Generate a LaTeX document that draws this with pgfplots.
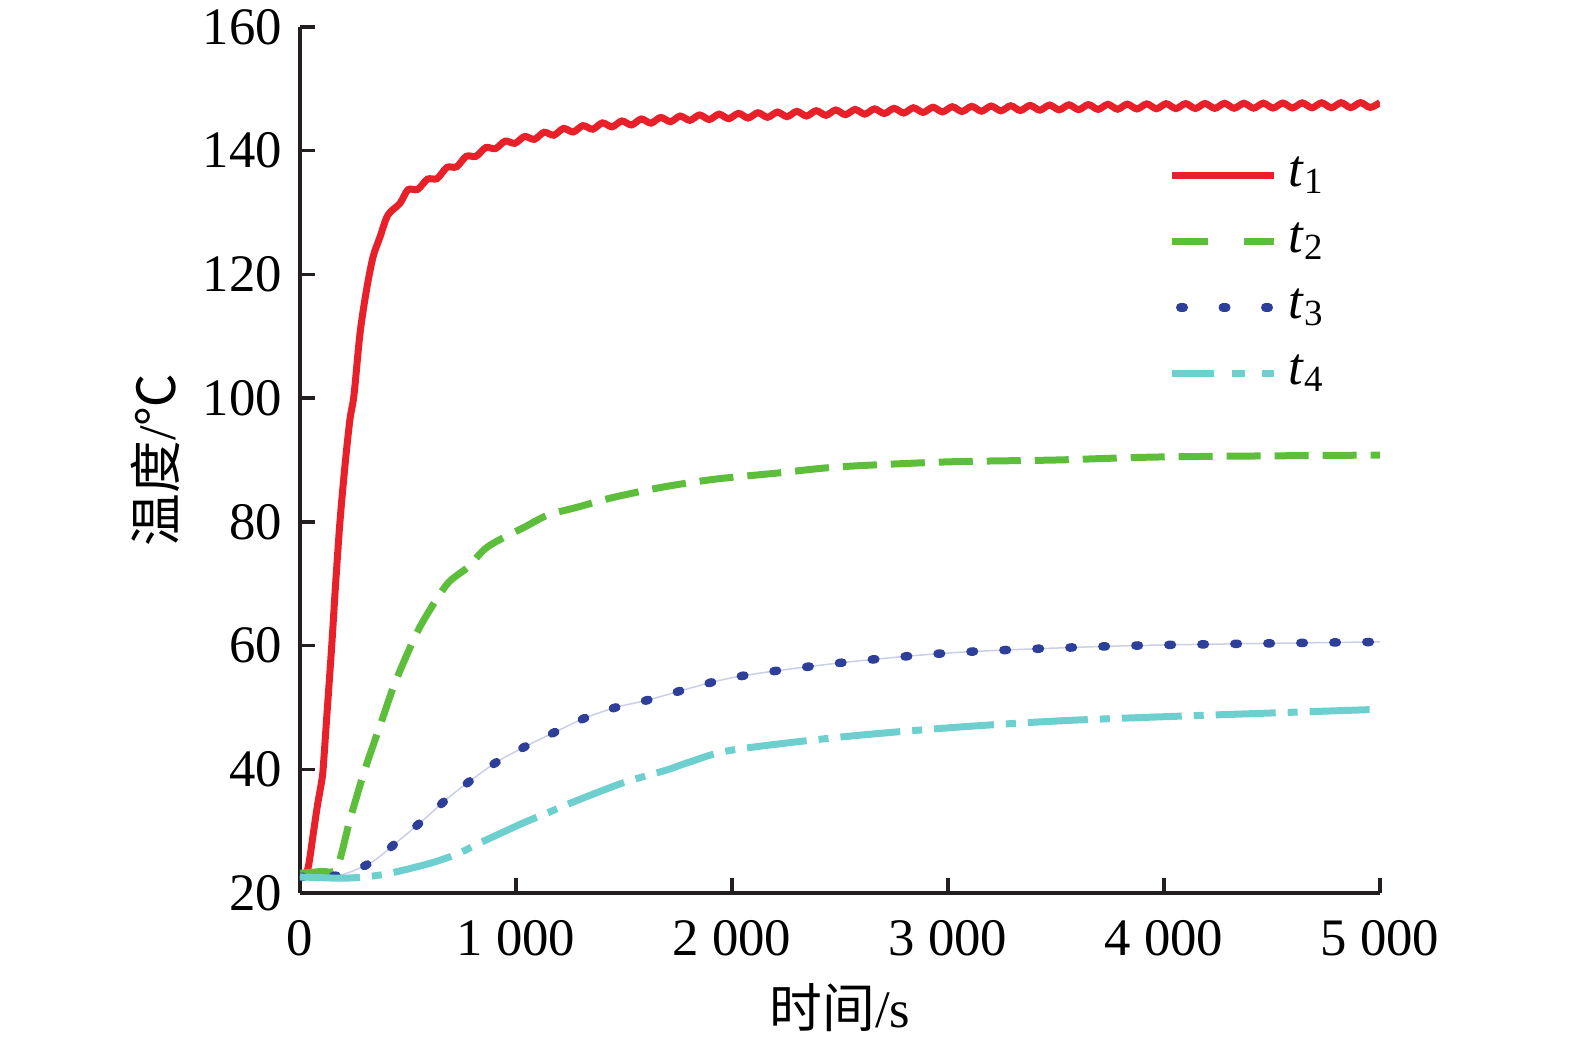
\documentclass[border=0pt]{standalone}
\usepackage{fontspec}
\setmainfont{Liberation Serif}
\newfontfamily\cjk{Noto Sans CJK SC}
\usepackage{pgfplots}
\pgfplotsset{compat=1.18}
\definecolor{cR}{HTML}{E8202A}
\definecolor{cG}{HTML}{5DBE3C}
\definecolor{cB}{HTML}{2E3F99}
\definecolor{cC}{HTML}{6ECFCF}
\definecolor{axc}{HTML}{231F20}
\begin{document}
\fontsize{15}{18}\selectfont
\begin{tikzpicture}
\path[use as bounding box] (-30mm,-15.4mm) rectangle (127.5mm,89.3mm);
\begin{axis}[
  scale only axis, width=108mm, height=86.6mm,
  xmin=0, xmax=5000, ymin=20, ymax=160,
  axis x line*=bottom, axis y line*=left,
  axis line style={-, line width=0.4mm, color=axc},
  tick style={line width=0.35mm, color=axc},
  major tick length=1.5mm,
  tick align=inside,
  xtick={0,1000,2000,3000,4000,5000},
  xticklabels={0,1 000,2 000,3 000,4 000,5 000},
  ytick={20,40,60,80,100,120,140,160},
  /pgf/number format/assume math mode=true,
  xticklabel style={yshift=-0.9mm},
  xlabel={{\cjk 时间}/s},
  ylabel={{\cjk 温度}/{\cjk ℃}},
  xlabel style={at={(axis description cs:0.5,-0.132)}, anchor=center},
  ylabel style={at={(axis description cs:-0.134,0.5)}, anchor=center},
  legend style={at={(axis description cs:0.794,0.871)}, anchor=north west,
    draw=none, fill=none, row sep=0.85mm, nodes={inner sep=1mm}},
  legend cell align=left,
]
% t1
\addplot[cR, line width=0.7mm, smooth, legend image code/.code={\draw[cR, line width=0.7mm] (0mm,0mm) -- (10.2mm,0mm);}] coordinates {
(0,22.8) (25,23) (40,24.5) (62,29.7) (80,34) (100,38) (107,40) (123,48)
(147,60) (165,70) (185,80) (208,89) (231,96.5) (250,100.5) (278,110.5)
(308,117.5) (338,122.8) (370,126) (407,129.6) (463,131.5)
(500,133.7) (545,133.75) (590,135.4) (635,135.5) (680,137.3) (725,137.4)
(770,139.1) (815,139.1) (860,140.5) (905,140.35) (950,141.55) (995,141.2)
(1040,142.3) (1085,141.84) (1130,142.98) (1175,142.51) (1220,143.6) (1265,143.03)
(1310,144.05) (1355,143.48) (1400,144.5) (1445,143.86) (1490,144.81) (1535,144.17)
(1580,145.13) (1625,144.46) (1670,145.38) (1715,144.69) (1760,145.6) (1805,144.91)
(1850,145.78) (1895,145.04) (1940,145.91) (1985,145.18) (2030,146.04) (2075,145.29)
(2120,146.14) (2165,145.4) (2210,146.25) (2255,145.51) (2300,146.36) (2345,145.61)
(2390,146.47) (2435,145.72) (2480,146.58) (2525,145.83) (2570,146.67) (2615,145.92)
(2660,146.76) (2705,146.01) (2750,146.85) (2795,146.1) (2840,146.94) (2885,146.19)
(2930,147.03) (2975,146.28) (3020,147.11) (3065,146.34) (3110,147.17) (3155,146.39)
(3200,147.22) (3245,146.45) (3290,147.27) (3335,146.5) (3380,147.33) (3425,146.56)
(3470,147.38) (3515,146.61) (3560,147.42) (3605,146.64) (3650,147.46) (3695,146.68)
(3740,147.5) (3785,146.71) (3830,147.53) (3875,146.75) (3920,147.57) (3965,146.79)
(4010,147.6) (4055,146.81) (4100,147.62) (4145,146.83) (4190,147.64) (4235,146.85)
(4280,147.66) (4325,146.87) (4370,147.67) (4415,146.88) (4460,147.69) (4505,146.9)
(4550,147.71) (4595,146.92) (4640,147.73) (4685,146.94) (4730,147.75) (4775,146.95)
(4820,147.76) (4865,146.97) (4910,147.78) (4955,146.99) (5000,147.8)
};
\addlegendentry{\textit{t}\textsubscript{1}}
% t2
\addplot[cG, line width=0.7mm, smooth, dash pattern=on 3.4mm off 1.4mm,
  legend image code/.code={\draw[cG, line width=0.7mm, dash pattern=on 3.6mm off 3.6mm] (0mm,0mm) -- (10.2mm,0mm);}] coordinates {
(0,23.2) (100,23.5) (170,24) (231,31.8) (300,39.9) (384,48.4) (440,54)
(532,61.4) (593,65.3) (685,70.1) (778,72.7) (870,76) (1042,79.2) (1148,81.1)
(1287,82.4) (1444,83.9) (1676,85.6) (1921,86.9) (2213,87.9) (2500,88.9)
(3000,89.7) (3500,90.0) (4000,90.5) (5000,90.8)
};
\addlegendentry{\textit{t}\textsubscript{2}}
% t3 faint line
\addplot[cB!25, line width=0.15mm, smooth, forget plot] coordinates {
(0,22.6) (185,22.9) (332,25) (448,28.2) (571,31.8) (687,35.4) (787,38.1)
(912,41.2) (1050,43.8) (1180,46) (1320,48.3) (1472,50.1) (1611,51.2)
(2000,54.8) (2500,57.2) (3000,58.8) (3500,59.6) (4000,60.1) (5000,60.6)
};
% t3
\addplot[cB, line width=0.85mm, smooth, line cap=round, dash pattern=on 0.35mm off 2.95mm,
  legend image code/.code={\draw[cB, line width=0.85mm, line cap=round, dash pattern=on 0.35mm off 3.9mm] (0.8mm,0mm) -- (10.2mm,0mm);}] coordinates {
(0,22.6) (185,22.9) (332,25) (448,28.2) (571,31.8) (687,35.4) (787,38.1)
(912,41.2) (1050,43.8) (1180,46) (1320,48.3) (1472,50.1) (1611,51.2)
(2000,54.8) (2500,57.2) (3000,58.8) (3500,59.6) (4000,60.1) (5000,60.6)
};
\addlegendentry{\textit{t}\textsubscript{3}}
% t4
\addplot[cC, line width=0.7mm, smooth, dash pattern=on 6mm off 1.2mm on 1mm off 1.2mm,
  legend image code/.code={\draw[cC, line width=0.7mm, dash pattern=on 4.2mm off 1.8mm on 1.3mm off 1.7mm on 1.3mm off 5mm] (0mm,0mm) -- (10.2mm,0mm);}] coordinates {
(0,22.6) (185,22.4) (300,22.6) (417,23.2) (602,24.8) (727,26.3) (833,28.1)
(1032,31.3) (1143,32.9) (1250,34.5) (1495,37.8) (1699,39.9) (1806,41.2)
(2000,43.1) (2500,45.2) (3000,46.7) (3500,47.8) (4000,48.5) (5000,49.7)
};
\addlegendentry{\textit{t}\textsubscript{4}}
\end{axis}
\end{tikzpicture}
\end{document}
